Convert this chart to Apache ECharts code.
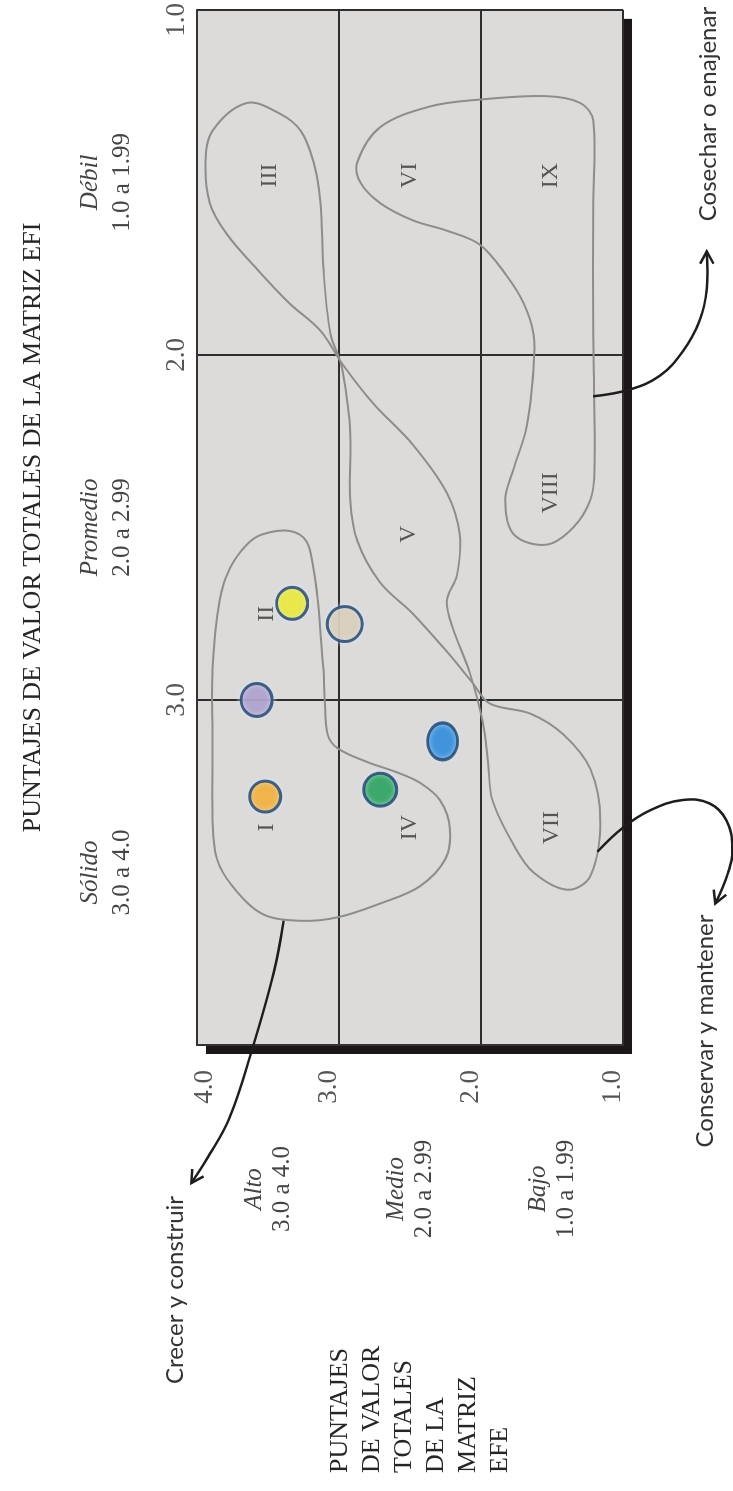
<!DOCTYPE html>
<html>
<head>
<meta charset="utf-8">
<script src="https://cdn.jsdelivr.net/npm/echarts/dist/echarts.min.js"></script>
<style>
  html, body { margin: 0; padding: 0; background: #fff; width: 733px; height: 1491px; overflow: hidden; }
  /* The matrix is laid out landscape and turned a quarter-turn counter-clockwise on the page */
  #chart { position: absolute; left: 0; top: 0; width: 1491px; height: 733px;
           transform-origin: 0 0; transform: translate(0, 1491px) rotate(-90deg); }
</style>
</head>
<body>
<div id="chart"></div>
<script>
// ---- Axis content -------------------------------------------------------
const efiTitle = 'PUNTAJES DE VALOR TOTALES DE LA MATRIZ EFI';
const efeTitle = ['PUNTAJES', 'DE VALOR', 'TOTALES', 'DE LA', 'MATRIZ', 'EFE'];
const efiTickLabels = ['1.0', '2.0', '3.0', ''];      // values 1..4 (4 left blank)
const efeTickLabels = ['1.0', '2.0', '3.0', '4.0'];   // values 1..4
const efiLevels = ['Sólido', 'Promedio', 'Débil'];
const efiRanges = ['3.0 a 4.0', '2.0 a 2.99', '1.0 a 1.99'];
const efeLevels = ['Bajo', 'Medio', 'Alto'];
const efeRanges = ['1.0 a 1.99', '2.0 a 2.99', '3.0 a 4.0'];

// ---- Cell numerals ------------------------------------------------------
const cellNames = ['I', 'II', 'III', 'IV', 'V', 'VI', 'VII', 'VIII', 'IX'];
const cellEfi   = [3.37, 2.75, 1.48, 3.37, 2.52, 1.48, 3.37, 2.40, 1.48];
const cellEfe   = [3.51, 3.51, 3.49, 2.50, 2.51, 2.50, 1.50, 1.51, 1.51];

// ---- Business units (EFI, EFE) ------------------------------------------
const unitEfi = [3.28, 2.72, 3.00, 2.78, 3.26, 3.12];
const unitEfe = [3.52, 3.33, 3.58, 2.96, 2.71, 2.27];
const unitColors = ['#f6a81f', '#eee71e', '#a995c4', '#d9cbb3', '#17994a', '#1b7fd6'];
const unitSizes = [[31, 31], [32, 31], [33, 31], [35, 35], [33, 33], [37, 30]];

// ---- Strategy zones, outlined as [EFI, EFE] (closed shapes) -------------
const growZone = [[2.91,3.89],[2.71,3.84],[2.62,3.77],[2.55,3.65],[2.52,3.54],[2.51,3.35],[2.54,3.23],
  [2.62,3.18],[2.71,3.15],[2.81,3.13],[2.91,3.11],[3.00,3.10],[3.10,3.08],[3.14,3.01],[3.18,2.80],
  [3.21,2.59],[3.24,2.43],[3.29,2.29],[3.37,2.22],[3.46,2.25],[3.54,2.43],[3.59,2.71],[3.63,3.01],
  [3.64,3.27],[3.62,3.54],[3.54,3.75],[3.46,3.86],[3.35,3.89],[3.12,3.89]];
const holdZone = [[1.27,3.65],[1.30,3.42],[1.35,3.27],[1.44,3.18],[1.56,3.13],[1.75,3.11],[1.94,3.06],
  [2.02,2.99],[2.14,2.94],[2.23,2.92],[2.42,2.92],[2.54,2.87],[2.66,2.71],[2.75,2.48],[2.86,2.24],
  [2.95,2.06],[3.01,1.94],[3.04,1.65],[3.10,1.42],[3.20,1.23],[3.35,1.16],[3.51,1.23],[3.55,1.39],
  [3.50,1.63],[3.42,1.77],[3.29,1.92],[3.18,1.95],[3.06,1.99],[2.92,2.08],[2.79,2.20],[2.71,2.24],
  [2.64,2.17],[2.52,2.15],[2.40,2.24],[2.26,2.48],[2.14,2.76],[2.03,2.97],[1.93,3.13],[1.85,3.35],
  [1.75,3.58],[1.65,3.79],[1.56,3.91],[1.44,3.94],[1.35,3.89]];
const harvestZone = [[1.25,1.54],[1.27,1.30],[1.32,1.21],[1.56,1.21],[1.94,1.21],[2.33,1.20],[2.42,1.23],
  [2.50,1.35],[2.55,1.54],[2.52,1.77],[2.42,1.83],[2.33,1.77],[2.21,1.68],[2.04,1.63],[1.94,1.63],
  [1.85,1.70],[1.77,1.82],[1.68,2.01],[1.64,2.24],[1.61,2.48],[1.56,2.71],[1.50,2.85],[1.44,2.87],
  [1.34,2.71],[1.28,2.36],[1.26,2.01]];

// ---- Strategy pointers, [EFI, EFE], running past the axes ---------------
const growArrow    = [[3.64,3.39],[3.79,3.46],[4.01,3.61],[4.21,3.77],[4.33,3.93],[4.40,4.04]];
const holdArrow    = [[3.44,1.18],[3.37,1.00],[3.32,0.81],[3.29,0.58],[3.30,0.39],[3.35,0.27],[3.43,0.23],[3.50,0.26],[3.59,0.35]];
const harvestArrow = [[2.12,1.21],[2.10,0.95],[2.06,0.74],[1.99,0.58],[1.90,0.46],[1.81,0.41],[1.70,0.41]];
const strategyNames = ['Crecer y construir', 'Conservar y mantener', 'Cosechar o enajenar'];

// ---- Styling ------------------------------------------------------------
const SERIF = '"Liberation Serif", "DejaVu Serif", serif';
const SANS = 'Lato, "Open Sans", sans-serif';
const GRID_LINE = '#2e2e2e';
const INK = '#1d1d1d';

const chart = echarts.init(document.getElementById('chart'), null, { renderer: 'canvas' });

// A smooth closed outline drawn through the cartesian scales
function zoneSeries(points) {
  return {
    type: 'custom', silent: true, z: 3, clip: false,
    data: [[2.5, 2.5]],
    renderItem: (params, api) => ({
      type: 'polygon',
      shape: { points: points.map(p => api.coord(p)), smooth: 0.35 },
      style: { stroke: '#8d8d8d', lineWidth: 2, fill: null }
    })
  };
}

// A curved pointer with an open arrowhead at its end
function arrowSeries(points) {
  return {
    type: 'custom', silent: true, z: 6, clip: false,
    data: [[2.5, 2.5]],
    renderItem: (params, api) => {
      const pts = points.map(p => api.coord(p));
      const tip = pts[pts.length - 1], prev = pts[pts.length - 2];
      const ang = Math.atan2(tip[1] - prev[1], tip[0] - prev[0]);
      const L = 14, spread = 0.5;
      const b1 = [tip[0] - L * Math.cos(ang - spread), tip[1] - L * Math.sin(ang - spread)];
      const b2 = [tip[0] - L * Math.cos(ang + spread), tip[1] - L * Math.sin(ang + spread)];
      return {
        type: 'group',
        children: [
          { type: 'polyline', shape: { points: pts, smooth: 0.4 },
            style: { stroke: INK, lineWidth: 2.5, fill: null } },
          { type: 'polyline', shape: { points: [b1, tip, b2] },
            style: { stroke: INK, lineWidth: 2.5, fill: null, lineJoin: 'miter' } }
        ]
      };
    }
  };
}

const option = {
  animation: false,
  backgroundColor: '#ffffff',
  grid: {
    show: true, left: 446, right: 7, top: 197, bottom: 110,
    backgroundColor: '#dddbda', borderWidth: 0, borderColor: 'transparent',
    shadowColor: '#1b1618', shadowBlur: 0, shadowOffsetX: -9, shadowOffsetY: 9
  },
  xAxis: [
    {
      type: 'value', min: 1, max: 4, interval: 1, inverse: true, position: 'top',
      name: efiTitle, nameLocation: 'middle', nameGap: 164,
      nameTextStyle: { fontFamily: SERIF, fontSize: 26, color: '#262626', verticalAlign: 'middle' },
      axisLine: { show: true, lineStyle: { color: '#333', width: 2 } },
      axisTick: { show: false },
      splitLine: { show: true, showMinLine: true, showMaxLine: true, lineStyle: { color: GRID_LINE, width: 2 } },
      axisLabel: {
        margin: 20, verticalAlign: 'middle', fontFamily: SERIF, fontSize: 27, color: '#555',
        formatter: v => {
          const t = efiTickLabels[Math.round(v) - 1];
          return v === 1 ? '{edge|' + t + '}' : t;
        },
        rich: { edge: { padding: [0, 20, 0, 0], fontFamily: SERIF, fontSize: 27, color: '#555' } }
      }
    },
    {
      type: 'category', data: efiLevels, position: 'top', boundaryGap: true,
      axisLine: { show: false }, axisTick: { show: false }, splitLine: { show: false },
      axisLabel: {
        interval: 0, margin: 59, verticalAlign: 'bottom', color: '#444',
        formatter: (v, i) => '{n|' + v + '}\n{r|' + efiRanges[i] + '}',
        rich: {
          n: { fontFamily: SERIF, fontStyle: 'italic', fontSize: 25, lineHeight: 32, color: '#444' },
          r: { fontFamily: SERIF, fontSize: 25, lineHeight: 32, color: '#444' }
        }
      }
    }
  ],
  yAxis: [
    {
      type: 'value', min: 1, max: 4, interval: 1, position: 'left',
      axisLine: { show: true, lineStyle: { color: '#333', width: 2 } },
      axisTick: { show: false },
      splitLine: { show: true, showMinLine: true, showMaxLine: true, lineStyle: { color: GRID_LINE, width: 2 } },
      axisLabel: {
        margin: 25, verticalAlign: 'middle',
        formatter: v => {
          const t = efeTickLabels[Math.round(v) - 1];
          return v === 4 ? '{top|' + t + '}' : '{mid|' + t + '}';
        },
        rich: {
          top: { padding: [16, 0, 0, 0], fontFamily: SERIF, fontSize: 27, color: '#555' },
          mid: { padding: [0, 0, 20, 0], fontFamily: SERIF, fontSize: 27, color: '#555' }
        }
      }
    },
    {
      type: 'category', data: efeLevels, position: 'left', boundaryGap: true,
      axisLine: { show: false }, axisTick: { show: false }, splitLine: { show: false },
      axisLabel: {
        interval: 0, margin: 144, align: 'center', verticalAlign: 'middle', color: '#444',
        formatter: (v, i) => '{n|' + v + '}\n{r|' + efeRanges[i] + '}',
        rich: {
          n: { fontFamily: SERIF, fontStyle: 'italic', fontSize: 25, lineHeight: 28, color: '#444', align: 'center' },
          r: { fontFamily: SERIF, fontSize: 25, lineHeight: 28, color: '#444', align: 'center' }
        }
      }
    }
  ],
  series: [
    zoneSeries(growZone),
    zoneSeries(holdZone),
    zoneSeries(harvestZone),
    arrowSeries(growArrow),
    arrowSeries(holdArrow),
    arrowSeries(harvestArrow),
    {
      type: 'scatter', silent: true, z: 5,
      data: cellNames.map((n, i) => [cellEfi[i], cellEfe[i]]),
      symbolSize: 1, itemStyle: { color: 'rgba(0,0,0,0)' },
      label: {
        show: true, position: 'inside', formatter: p => cellNames[p.dataIndex],
        fontFamily: SERIF, fontSize: 24, color: '#333'
      }
    },
    {
      type: 'scatter', silent: true, z: 8,
      data: unitEfi.map((x, i) => ({
        value: [x, unitEfe[i]],
        symbolSize: unitSizes[i],
        itemStyle: { color: unitColors[i] }
      })),
      itemStyle: {
        borderColor: '#203f68', borderWidth: 3,
        shadowColor: 'rgba(210,235,255,0.9)', shadowBlur: 5
      }
    }
  ],
  graphic: [
    {
      type: 'text', x: 18, y: 324, silent: true,
      style: { text: efeTitle.join('\n'), font: '26px ' + SERIF, lineHeight: 32, fill: '#262626' }
    },
    {
      type: 'text', x: 201, y: 175, silent: true,
      style: { text: strategyNames[0], font: '24px ' + SANS, fill: '#333', align: 'center', verticalAlign: 'middle' }
    },
    {
      type: 'text', x: 460, y: 705, silent: true,
      style: { text: strategyNames[1], font: '24px ' + SANS, fill: '#333', align: 'center', verticalAlign: 'middle' }
    },
    {
      type: 'text', x: 1377, y: 708, silent: true,
      style: { text: strategyNames[2], font: '24px ' + SANS, fill: '#333', align: 'center', verticalAlign: 'middle' }
    }
  ]
};

chart.setOption(option);
</script>
</body>
</html>
